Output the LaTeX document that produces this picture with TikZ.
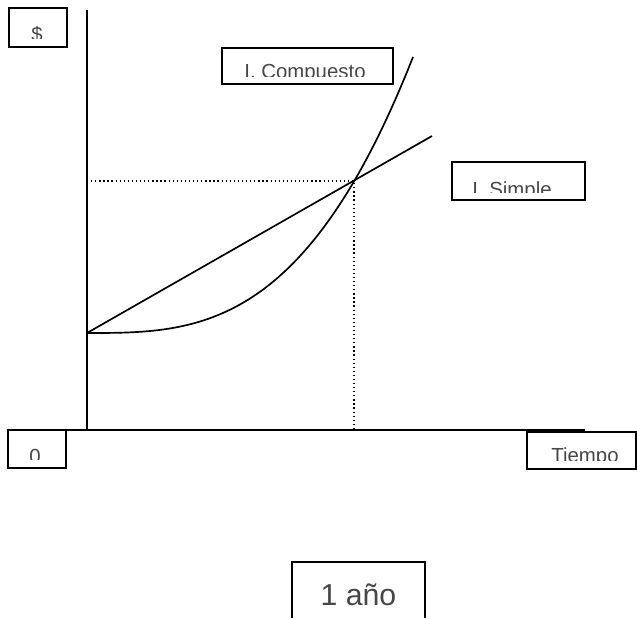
\documentclass[tikz,border=0pt]{standalone}
\usepackage{fontspec}
\setmainfont{Liberation Sans}
\usepackage{tikz}
\tikzset{
  axisline/.style={line width=1.3pt},
  curveline/.style={line width=1.2pt},
  guideline/.style={dotted, line width=0.9pt},
  lblbox/.style={line width=1.2pt},
  lbltext/.style={text=black!72, inner sep=0pt, anchor=base,
    font=\fontsize{14.5}{16}\selectfont},
}

\begin{document}
\begin{tikzpicture}[x=0.025cm, y=-0.025cm]
        \useasboundingbox (0,0) rectangle (637,618);
        % Axes
        \draw[axisline] (87,10) -- (87,430);
        \draw[axisline] (67,430) -- (585,430);
        % Curves: simple (straight) and compound (cubic)
        \coordinate (start) at (87,333);
        \coordinate (cross) at (354,181);
        \draw[curveline] (start) -- (432,136);
        \draw[curveline] (start) .. controls (195.7,333) and (304.3,333) .. (413,57);
        % Dotted guides to the crossing point
        \draw[guideline] (87,181) -- (cross) -- (354,430);
        % Box: $
        \draw[lblbox] (9,8) rectangle (67,47);
        \begin{scope}
          \clip (9,8) rectangle (67,38);
          \node[lbltext] (dollarlbl) at (37,42) {\$};
        \end{scope}
        % Box: I. Compuesto
        \draw[lblbox] (222,48) rectangle (393,84);
        \begin{scope}
          \clip (222,48) rectangle (393,76);
          \node[lbltext] (compuestolbl) at (305,78) {I. Compuesto};
        \end{scope}
        % Box: I. Simple
        \draw[lblbox] (452,162) rectangle (585,200);
        \begin{scope}
          \clip (452,162) rectangle (585,192);
          \node[lbltext] (simplelbl) at (512,196) {I. Simple};
        \end{scope}
        % Box: 0
        \draw[lblbox] (8,430) rectangle (66,468);
        \begin{scope}
          \clip (8,430) rectangle (66,459);
          \node[lbltext] (zerolbl) at (35,463) {0};
        \end{scope}
        % Box: Tiempo
        \draw[lblbox] (527,432) rectangle (636,469);
        \begin{scope}
          \clip (527,432) rectangle (636,460);
          \node[lbltext] (tiempolbl) at (585,462) {Tiempo};
        \end{scope}
        % Box: 1 año (runs off the bottom)
        \draw[lblbox] (292,618) -- (292,562) -- (425,562) -- (425,618);
        \node[lbltext, font=\fontsize{21.5}{24}\selectfont]
          (aniolbl) at (358.5,605) {1 año};
      \end{tikzpicture}
\end{document}
